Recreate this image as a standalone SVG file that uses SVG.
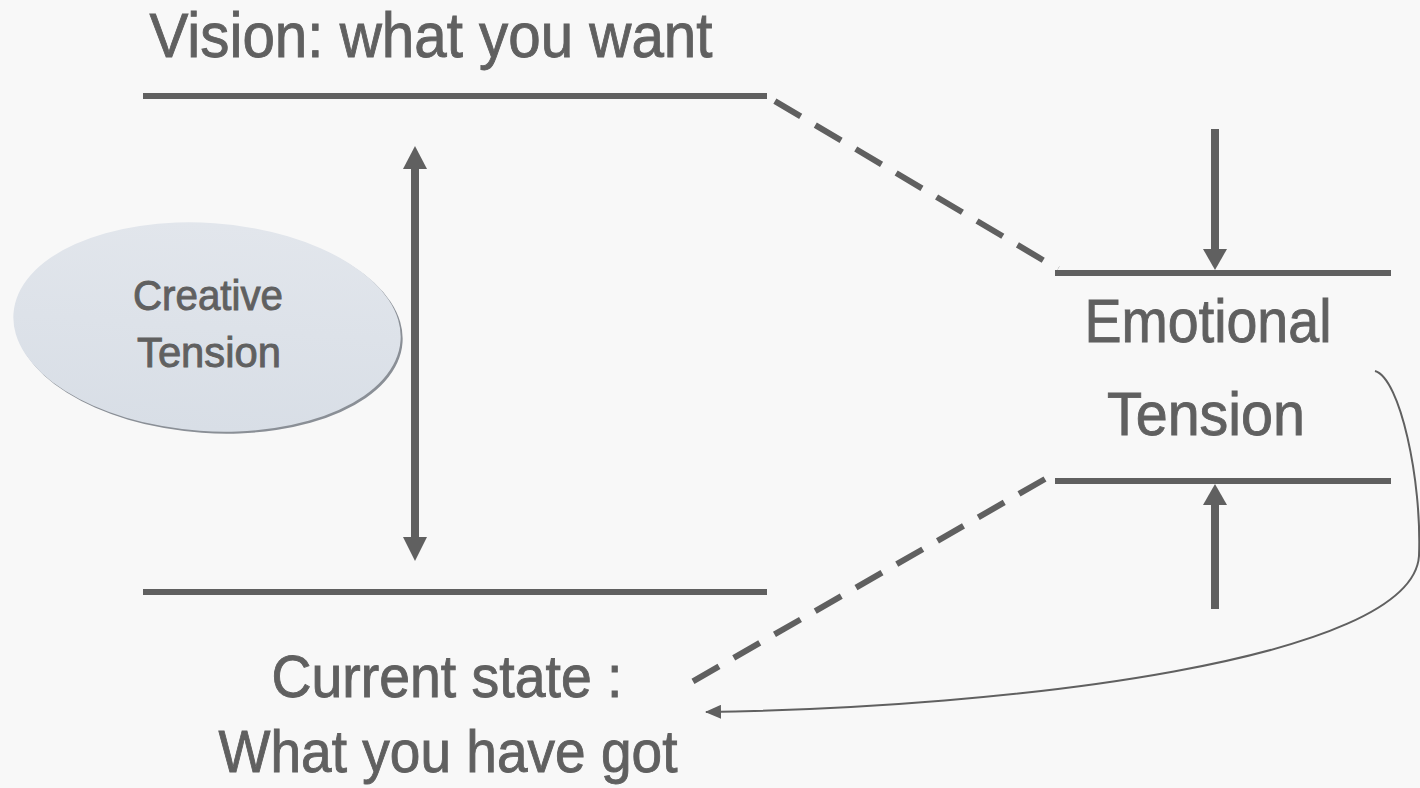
<svg xmlns="http://www.w3.org/2000/svg" width="1420" height="788" viewBox="0 0 1420 788">
<style>
.t{font-family:"Liberation Sans",Arial,sans-serif;fill:#606060;stroke:#606060;stroke-width:0.9;}
.ln{stroke:#606060;stroke-width:6;fill:none;}
.dash{stroke:#606060;stroke-width:6;fill:none;stroke-dasharray:30 17;}
.ar{stroke:#606060;stroke-width:8;fill:none;}
</style>
<defs>
<linearGradient id="eg" x1="0" y1="0" x2="0" y2="1">
<stop offset="0" stop-color="#e2e6ec"/>
<stop offset="1" stop-color="#d8dee6"/>
</linearGradient>
<marker id="ah" markerWidth="16" markerHeight="14" refX="15" refY="7" orient="auto" markerUnits="userSpaceOnUse">
<path d="M0,0 L16,7 L0,14 Z" fill="#606060"/>
</marker>
</defs>
<rect width="1420" height="788" fill="#f8f8f8"/>
<g id="vision">
<text class="t" x="431" y="57" font-size="63" text-anchor="middle" textLength="563" lengthAdjust="spacingAndGlyphs">Vision: what you want</text>
<line class="ln" x1="143" y1="96" x2="767" y2="96"/>
</g>
<g id="current">
<line class="ln" x1="143" y1="592" x2="767" y2="592"/>
<text class="t" x="447" y="697" font-size="59" text-anchor="middle" textLength="351" lengthAdjust="spacingAndGlyphs">Current state :</text>
<text class="t" x="448" y="772" font-size="59" text-anchor="middle" textLength="459" lengthAdjust="spacingAndGlyphs">What you have got</text>
</g>
<g id="creative">
<ellipse cx="209" cy="329" rx="194" ry="104" transform="rotate(4 209 329)" fill="#8a8f96"/>
<ellipse cx="207" cy="327" rx="194" ry="104" transform="rotate(4 207 327)" fill="url(#eg)"/>
<text class="t" x="208" y="310" font-size="42" text-anchor="middle" textLength="150" lengthAdjust="spacingAndGlyphs" stroke-width="0.6">Creative</text>
<text class="t" x="209" y="367" font-size="42" text-anchor="middle" textLength="144" lengthAdjust="spacingAndGlyphs" stroke-width="0.6">Tension</text>
</g>
<g id="emotional">
<line class="ln" x1="1055" y1="273" x2="1391" y2="273"/>
<line class="ln" x1="1055" y1="481" x2="1391" y2="481"/>
<text class="t" x="1208" y="342" font-size="61" text-anchor="middle" textLength="247" lengthAdjust="spacingAndGlyphs">Emotional</text>
<text class="t" x="1206" y="435" font-size="61" text-anchor="middle" textLength="198" lengthAdjust="spacingAndGlyphs">Tension</text>
</g>
<g id="connectors">
<line class="dash" x1="768" y1="97" x2="1058" y2="269" stroke-dashoffset="-8"/>
<line class="dash" x1="1045" y1="479" x2="690" y2="683"/>
<line class="ar" x1="415" y1="167" x2="415" y2="539"/>
<polygon points="415,146 403,169 427,169" fill="#606060"/>
<polygon points="415,561 403,537 427,537" fill="#606060"/>
<line class="ar" x1="1215" y1="129" x2="1215" y2="250"/>
<polygon points="1215,270 1203,249 1227,249" fill="#606060"/>
<line class="ar" x1="1215" y1="609" x2="1215" y2="503"/>
<polygon points="1215,484 1203,505 1227,505" fill="#606060"/>
<path d="M1375,371 C1400,378 1422,480 1419,556 C1412,660 1010,708 706,712" stroke="#606060" stroke-width="2" fill="none" marker-end="url(#ah)"/>
</g>
</svg>
